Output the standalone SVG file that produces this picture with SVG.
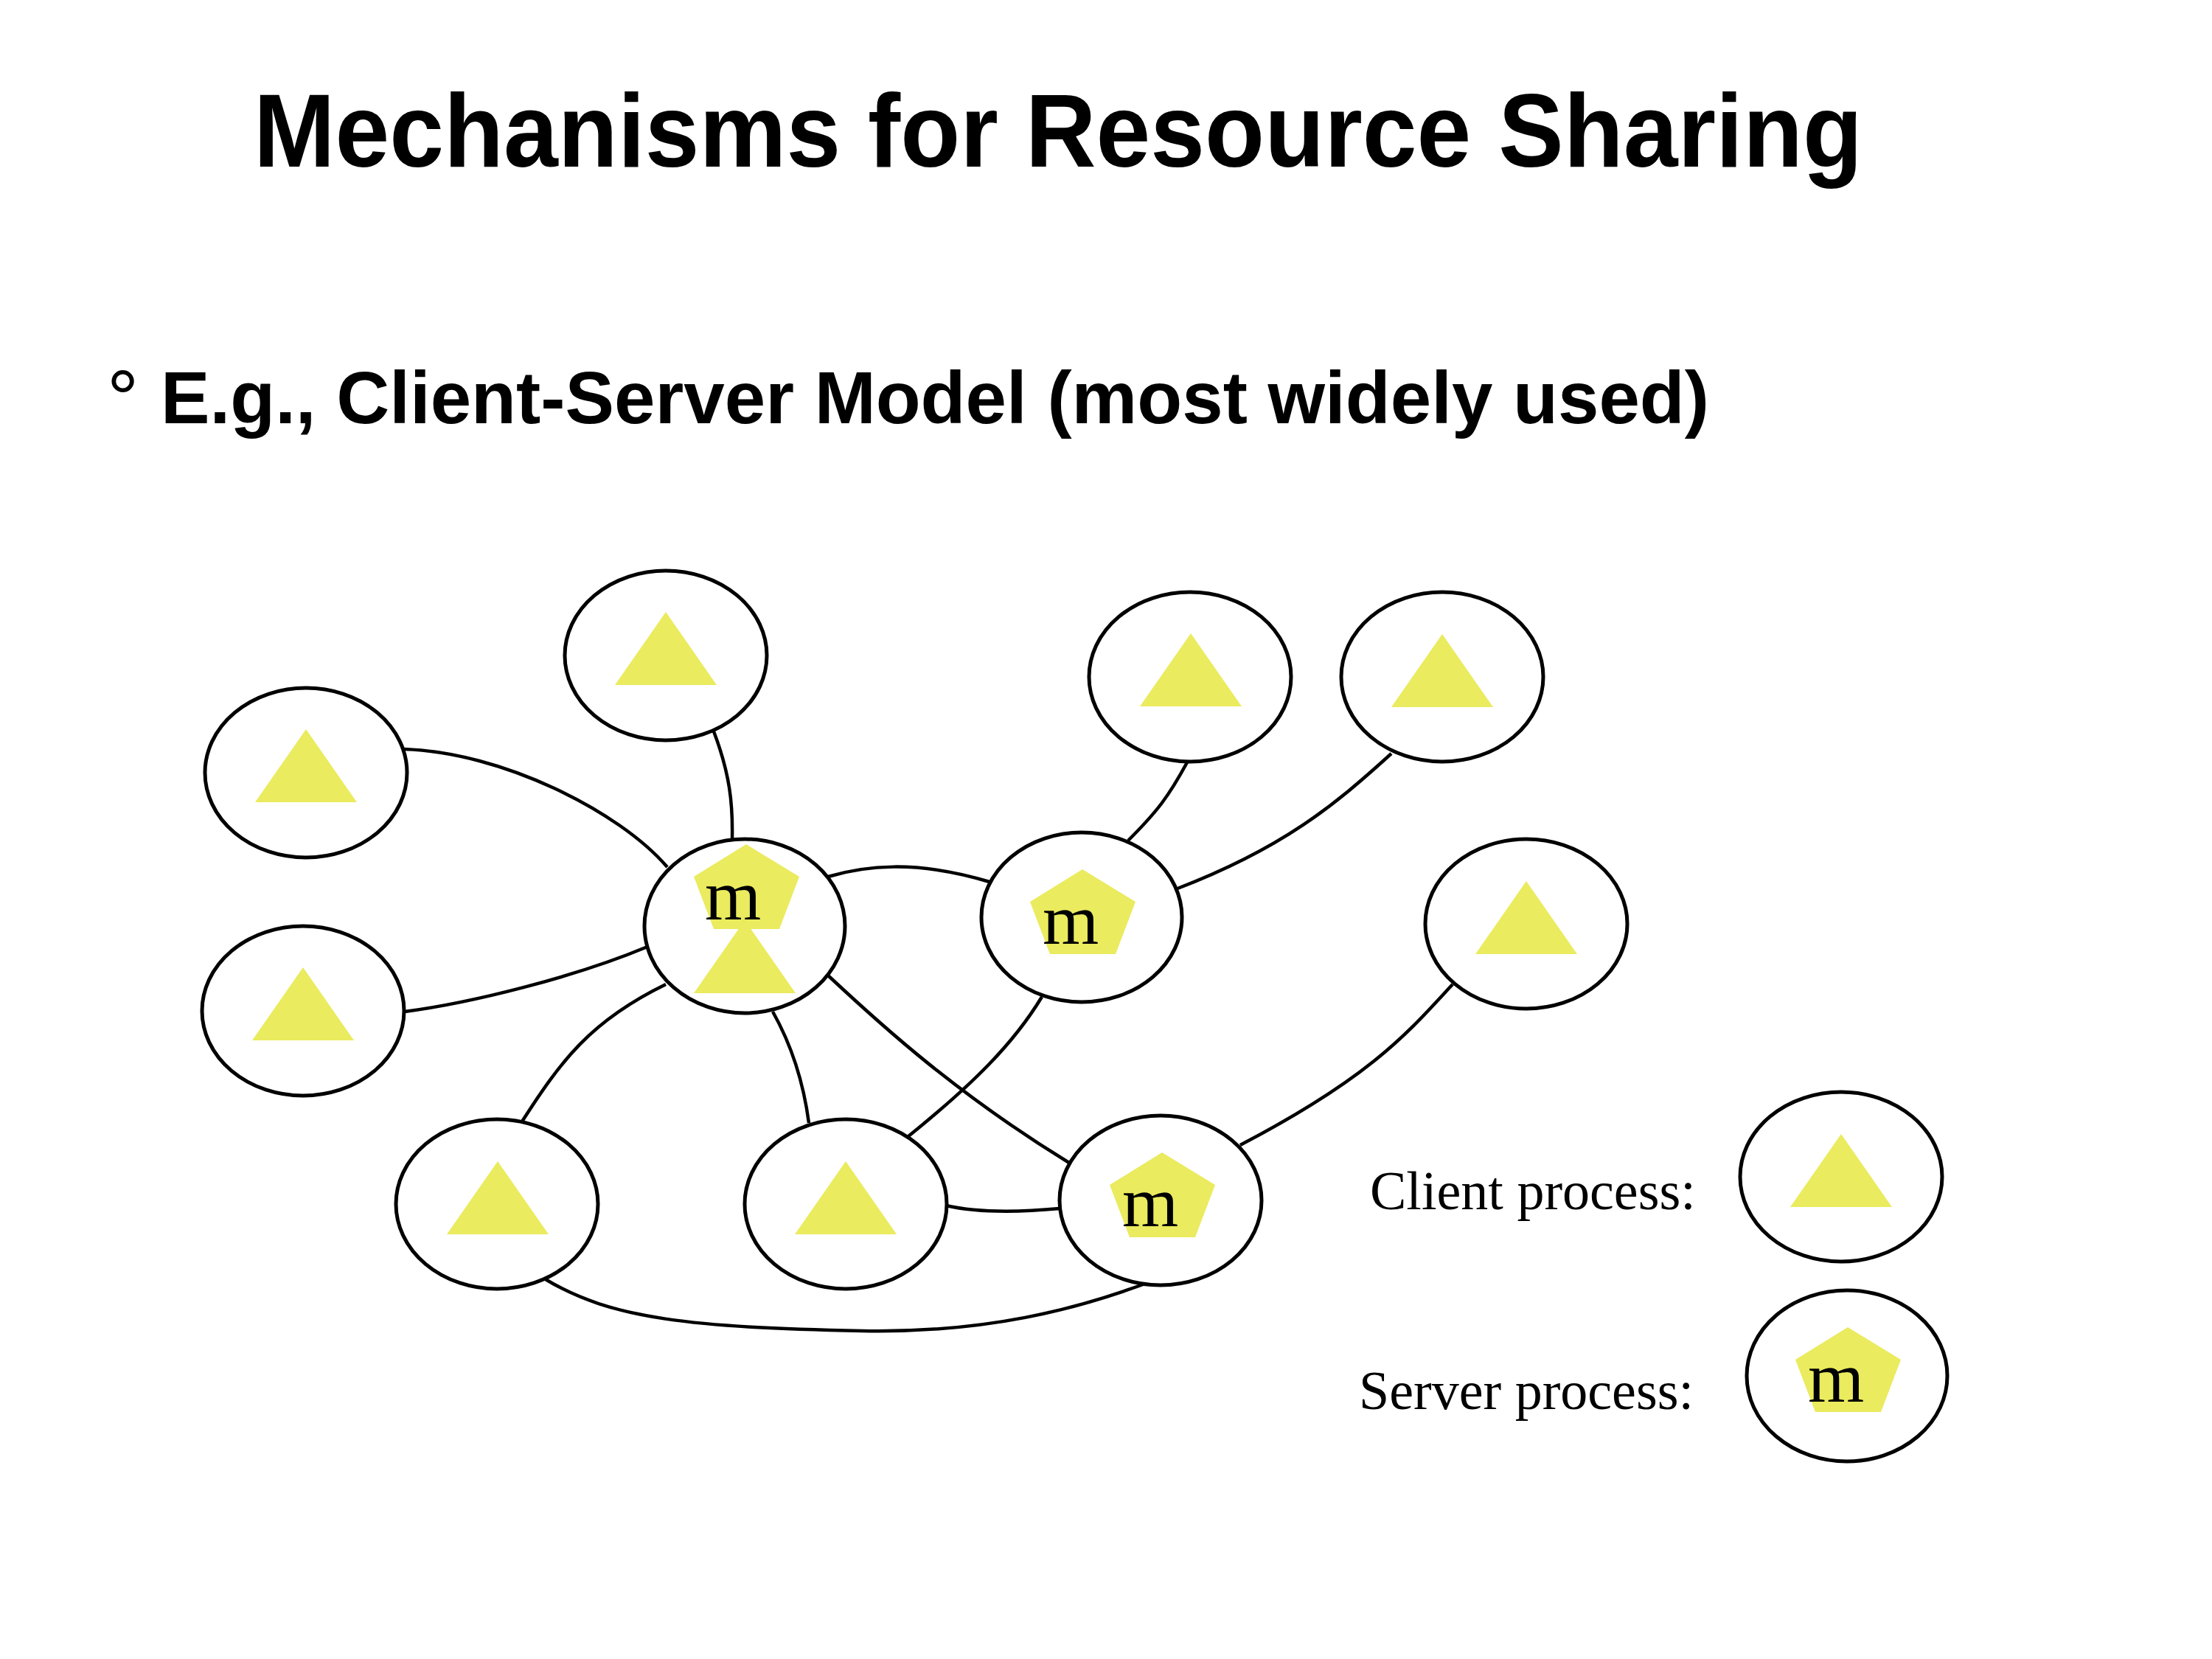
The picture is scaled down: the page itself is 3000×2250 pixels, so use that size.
<svg xmlns="http://www.w3.org/2000/svg" width="3000" height="2250" viewBox="0 0 3000 2250">
<defs>
<style>
.node{fill:#ffffff;stroke:#000000;stroke-width:5}
.edge{fill:none;stroke:#000000;stroke-width:4.5}
.tri{fill:#EAEB5E}
.pent{fill:#EAEB5E}
.m{font-family:"Liberation Serif","Times New Roman",serif;font-size:98px;fill:#000000;text-anchor:middle}
.title{font-family:"Liberation Sans",Arial,sans-serif;font-weight:bold;fill:#000000}
.legend{font-family:"Liberation Serif","Times New Roman",serif;font-size:74px;fill:#000000}
</style>
<polygon id="triShape" points="0,-59 69,40 -69,40"/>
<polygon id="pentShape" points="0,0 72,44 45,115 -44,115 -71,44"/>
</defs>
<rect width="3000" height="2250" fill="#ffffff"/>
<text class="title" x="344" y="226" font-size="141" textLength="2182" lengthAdjust="spacingAndGlyphs">Mechanisms for Resource Sharing</text>
<text x="145" y="577" font-family="'Liberation Sans',Arial,sans-serif" font-size="108" fill="#000000">°</text>
<text class="title" x="218" y="574" font-size="101" textLength="2100" lengthAdjust="spacingAndGlyphs">E.g., Client-Server Model (most widely used)</text>

<g id="connectors">
<path class="edge" d="M548,1016 C680,1020 840,1100 905,1176"/>
<path class="edge" d="M968,992 C990,1050 994,1090 993,1138"/>
<path class="edge" d="M549,1372 C640,1360 780,1325 878,1284"/>
<path class="edge" d="M1123,1189 C1170,1175 1240,1165 1342,1196"/>
<path class="edge" d="M1610,1034 C1585,1080 1570,1100 1530,1140"/>
<path class="edge" d="M1887,1022 C1810,1092 1740,1150 1597,1205"/>
<path class="edge" d="M708,1521 C760,1440 800,1385 903,1335"/>
<path class="edge" d="M1048,1372 C1075,1420 1090,1470 1097,1523"/>
<path class="edge" d="M1122,1322 C1200,1395 1300,1485 1450,1577"/>
<path class="edge" d="M1413,1352 C1375,1415 1320,1470 1232,1541"/>
<path class="edge" d="M1283,1635 Q1340,1648 1437,1639"/>
<path class="edge" d="M738,1734 C830,1790 940,1800 1170,1805 C1340,1808 1460,1775 1553,1741"/>
<path class="edge" d="M1970,1335 C1910,1400 1860,1460 1682,1553"/>
</g>

<g id="nodeA"><ellipse class="node" cx="903" cy="889" rx="137" ry="115"/><use href="#triShape" class="tri" x="903" y="889"/></g>
<g id="nodeB"><ellipse class="node" cx="415" cy="1048" rx="137" ry="115"/><use href="#triShape" class="tri" x="415" y="1048"/></g>
<g id="nodeC"><ellipse class="node" cx="411" cy="1371" rx="137" ry="115"/><use href="#triShape" class="tri" x="411" y="1371"/></g>
<g id="nodeD"><ellipse class="node" cx="1010" cy="1256" rx="136" ry="118"/><use href="#triShape" class="tri" x="1010" y="1307"/><use href="#pentShape" class="pent" x="1012" y="1145"/><text class="m" x="994" y="1247">m</text></g>
<g id="nodeE"><ellipse class="node" cx="1467" cy="1244" rx="136" ry="115"/><use href="#pentShape" class="pent" x="1468" y="1179"/><text class="m" x="1452" y="1280">m</text></g>
<g id="nodeF"><ellipse class="node" cx="1614" cy="918" rx="137" ry="115"/><use href="#triShape" class="tri" x="1615" y="918"/></g>
<g id="nodeG"><ellipse class="node" cx="1956" cy="918" rx="137" ry="115"/><use href="#triShape" class="tri" x="1956" y="919"/></g>
<g id="nodeH"><ellipse class="node" cx="2070" cy="1253" rx="137" ry="115"/><use href="#triShape" class="tri" x="2070" y="1254"/></g>
<g id="nodeI"><ellipse class="node" cx="674" cy="1633" rx="137" ry="115"/><use href="#triShape" class="tri" x="675" y="1634"/></g>
<g id="nodeJ"><ellipse class="node" cx="1147" cy="1633" rx="137" ry="115"/><use href="#triShape" class="tri" x="1147" y="1634"/></g>
<g id="nodeK"><ellipse class="node" cx="1574" cy="1628" rx="137" ry="115"/><use href="#pentShape" class="pent" x="1576" y="1563"/><text class="m" x="1560" y="1663">m</text></g>

<g id="legend">
<text class="legend" x="1858" y="1640">Client process:</text>
<text class="legend" x="1843" y="1911">Server process:</text>
<g id="legendClient"><ellipse class="node" cx="2497" cy="1596" rx="137" ry="115"/><use href="#triShape" class="tri" x="2497" y="1597"/></g>
<g id="legendServer"><ellipse class="node" cx="2505" cy="1866" rx="136" ry="116"/><use href="#pentShape" class="pent" x="2506" y="1800"/><text class="m" x="2490" y="1901">m</text></g>
</g>
</svg>
